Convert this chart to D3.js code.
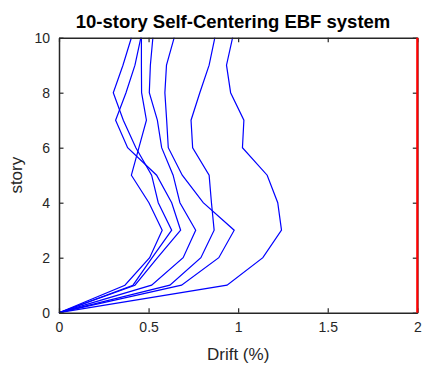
<!DOCTYPE html>
<html><head><meta charset="utf-8">
<script src="https://cdn.jsdelivr.net/npm/d3@7/dist/d3.min.js"></script>
<style>body{margin:0;background:#fff}svg{display:block}text{font-family:"Liberation Sans",Arial,sans-serif}</style>
</head><body><svg id="c" width="422" height="367"></svg>
<script>
const stories = [0,1,2,3,4,5,6,7,8,9,10];
const drift1 = [0,0.368,0.506,0.576,0.502,0.404,0.446,0.488,0.461,0.460,0.460];
const drift2 = [0,0.413,0.520,0.629,0.554,0.517,0.429,0.359,0.303,0.357,0.404];
const drift3 = [0,0.424,0.550,0.679,0.629,0.545,0.383,0.316,0.374,0.424,0.457];
const drift4 = [0,0.517,0.693,0.763,0.675,0.637,0.573,0.549,0.504,0.510,0.524];
const drift5 = [0,0.619,0.792,0.866,0.851,0.838,0.746,0.737,0.786,0.838,0.870];
const drift6 = [0,0.684,0.892,0.978,0.805,0.688,0.610,0.601,0.591,0.600,0.643];
const drift7 = [0,0.938,1.138,1.242,1.221,1.162,1.024,1.032,0.958,0.935,0.969];
const series = [drift1,drift2,drift3,drift4,drift5,drift6,drift7];
const limitDrift = 2;
const xTicks = [0,0.5,1,1.5,2];
const xTickLabels = ["0","0.5","1","1.5","2"];
const yTicks = [0,2,4,6,8,10];
const title = "10-story Self-Centering EBF system";
const xLabel = "Drift (%)";
const yLabel = "story";

const L=59, R=417.3, T=37.7, B=312.7;
const svg = d3.select("#c");
const x = d3.scaleLinear().domain([0,2]).range([L,R]);
const y = d3.scaleLinear().domain([0,10]).range([B,T]);
const axCol = "#262626";

const line = d3.line().x(d=>x(d[0])).y(d=>y(d[1]));
series.forEach(s=>{
  svg.append("path").datum(s.map((v,i)=>[v,stories[i]]))
    .attr("d",line).attr("fill","none").attr("stroke","#0000ff").attr("stroke-width",1.2);
});

// axes
const gx = svg.append("g").attr("transform",`translate(0,${B})`)
  .call(d3.axisBottom(x).tickValues(xTicks).tickFormat((d,i)=>xTickLabels[i]).tickSizeInner(-4.5).tickSizeOuter(0).tickPadding(9));
const gxt = svg.append("g").attr("transform",`translate(0,${T})`)
  .call(d3.axisTop(x).tickValues(xTicks).tickFormat("").tickSizeInner(-4.5).tickSizeOuter(0));
const gy = svg.append("g").attr("transform",`translate(${L},0)`)
  .call(d3.axisLeft(y).tickValues(yTicks).tickSizeInner(-4.5).tickSizeOuter(0).tickPadding(9));
const gyr = svg.append("g").attr("transform",`translate(${R},0)`)
  .call(d3.axisRight(y).tickValues(yTicks).tickFormat("").tickSizeInner(-4.5).tickSizeOuter(0));
[gx,gxt,gy,gyr].forEach(g=>{
  g.select(".domain").attr("stroke",axCol).attr("stroke-width",1.5);
  g.selectAll(".tick line").attr("stroke",axCol).attr("stroke-width",1.2);
  g.selectAll("text").attr("fill",axCol).style("font-size","14px").style("font-family","'Liberation Sans',Arial,sans-serif");
});

// red limit line
svg.append("line").attr("x1",x(limitDrift)).attr("x2",x(limitDrift)).attr("y1",y(0)).attr("y2",y(10))
  .attr("stroke","#ff0000").attr("stroke-width",2.2);

svg.append("text").attr("x",233).attr("y",28).attr("text-anchor","middle")
  .style("font-size","18.5px").style("font-weight","bold").attr("fill","#000").text(title);
svg.append("text").attr("x",(L+R)/2).attr("y",360).attr("text-anchor","middle")
  .style("font-size","17px").attr("fill",axCol).text(xLabel);
svg.append("text").attr("transform",`translate(22,${(T+B)/2}) rotate(-90)`).attr("text-anchor","middle")
  .style("font-size","17px").attr("fill",axCol).text(yLabel);
</script></body></html>
